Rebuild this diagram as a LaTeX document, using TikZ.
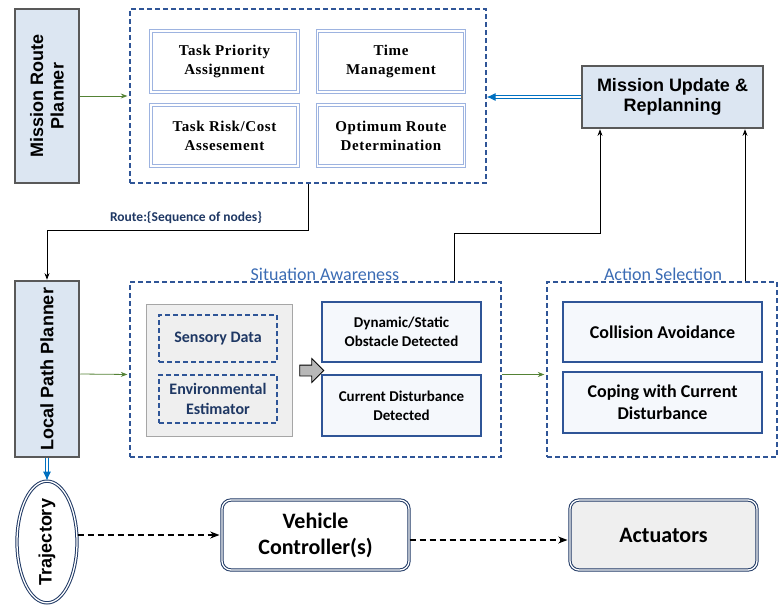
\documentclass[tikz,border=0pt]{standalone}
\usepackage{fontspec}
\newfontfamily\calibfont{Carlito}
\newfontfamily\arialfont{Liberation Sans}
\newfontfamily\cambfont[LetterSpace=4]{Liberation Serif}
\usetikzlibrary{arrows,arrows.meta}
\usetikzlibrary{positioning}
\usetikzlibrary{calc}
\usetikzlibrary{shapes.geometric,shapes.arrows}

\definecolor{dashblue}{HTML}{2F5597}
\definecolor{titleblue}{HTML}{3B6CB4}
\definecolor{navy}{HTML}{1F3864}
\definecolor{plgray}{HTML}{595959}
\definecolor{plfill}{HTML}{DCE6F2}
\definecolor{softblue}{HTML}{9DB3E0}
\definecolor{boxfill}{HTML}{F5F8FC}
\definecolor{graybox}{HTML}{EFEFEF}
\definecolor{grayline}{HTML}{A6A6A6}
\definecolor{arrowgreen}{HTML}{548235}
\definecolor{linkblue}{HTML}{0070C0}

\begin{document}
\begin{tikzpicture}[x=1pt,y=-1pt,>=Stealth,semithick]
\tikzstyle{planner}=[draw=plgray,line width=2.5pt,fill=plfill,inner sep=0pt,align=center,
  font=\arialfont\bfseries\fontsize{18}{20.5}\selectfont]
\tikzstyle{group}=[draw=dashblue,dash pattern=on 5pt off 3pt,line width=1.2pt,inner sep=0pt]
\tikzstyle{task}=[draw=softblue,double=white,double distance=1.5pt,line width=1pt,inner sep=0pt,
  minimum width=147pt,minimum height=61pt,align=center,font=\cambfont\bfseries\fontsize{15}{19}\selectfont]
\tikzstyle{event}=[draw=dashblue,line width=1.1pt,fill=boxfill,inner sep=0pt,minimum width=159pt,minimum height=60pt,
  align=center,font=\calibfont\bfseries\fontsize{15}{19}\selectfont]
\tikzstyle{action}=[draw=dashblue,line width=1.1pt,fill=boxfill,inner sep=0pt,minimum width=199pt,minimum height=60pt,
  align=center,font=\calibfont\bfseries\fontsize{18}{22}\selectfont]
\tikzstyle{sensor}=[draw=dashblue,dash pattern=on 5pt off 3pt,line width=1.1pt,inner sep=0pt,minimum width=118pt,minimum height=47pt,
  align=center,text=navy,font=\calibfont\bfseries\fontsize{16}{20}\selectfont]
\tikzstyle{grouptitle}=[text=titleblue,font=\calibfont\fontsize{18}{20}\selectfont]
\tikzstyle{roundbox}=[draw=navy,double=white,double distance=1.3pt,line width=1pt,rounded corners=9pt,
  inner sep=0pt,minimum width=187pt,minimum height=70pt,align=center,font=\calibfont\bfseries\fontsize{22}{26}\selectfont]
\tikzstyle{greenarrow}=[->,arrowgreen,thick,shorten >=2pt]
\tikzstyle{bluearrow}=[-{Latex[length=9pt,width=8pt]},linkblue,double=white,double distance=1.3pt,line width=0.9pt]
\tikzstyle{dasharrow}=[->,black,line width=1.4pt,dash pattern=on 6pt off 4pt,shorten >=2pt]

\useasboundingbox (0,0) rectangle (781,605);

% top row
\node[planner,rotate=90,minimum width=174pt,minimum height=64pt] (mrp) at (47,96) {Mission Route\\Planner};
\node[group,minimum width=356pt,minimum height=174pt] (mpbox) at (308,96) {};
\node[task] (tpa) at (224.5,61.5) {Task Priority\\Assignment};
\node[task] (tmg) at (391,61.5) {Time\\Management};
\node[task] (trc) at (224.5,135.5) {Task Risk/Cost\\Assesement};
\node[task] (ord) at (391,135.5) {Optimum Route\\Determination};
\node[planner,minimum width=181pt,minimum height=62pt] (mu) at (672.5,97) {Mission Update \&\\Replanning};

% middle row
\node[planner,rotate=90,minimum width=176pt,minimum height=64pt] (lpp) at (47,369) {Local Path Planner};
\node[group,minimum width=371pt,minimum height=175pt] (sa) at (315.5,369.5) {};
\node[grouptitle] (satitle) at (325,274) {Situation Awareness};
\node[draw=grayline,thick,fill=graybox,minimum width=146pt,minimum height=132pt] (sense) at (219,370) {};
\node[sensor] (sd) at (218,338.5) {Sensory Data};
\node[sensor,minimum height=48pt] (ee) at (218,399) {Environmental\\Estimator};
\node[single arrow,draw=black,thick,fill=grayline!80,minimum height=24pt,
  single arrow head extend=6.5pt,inner sep=5pt] (feed) at (309,370.5) {};
\node[event] (dsd) at (401.5,332) {Dynamic/Static\\Obstacle Detected};
\node[event,minimum height=61pt] (cdd) at (401.5,405.5) {Current Disturbance\\Detected};
\node[group,minimum width=230pt,minimum height=175pt] (as) at (662,369.5) {};
\node[grouptitle] (astitle) at (663,274) {Action Selection};
\node[action] (ca) at (662.5,332) {Collision Avoidance};
\node[action,minimum height=61pt] (cw) at (662.5,402.5) {Coping with Current\\Disturbance};

% bottom row
\node[ellipse,draw=navy,double=white,double distance=1.3pt,line width=1pt,rotate=90,inner sep=0pt,
  minimum width=120pt,minimum height=60pt,font=\arialfont\bfseries\fontsize{18}{20}\selectfont] (traj) at (47,542) {Trajectory};
\node[roundbox] (vc) at (315.5,535) {Vehicle\\Controller(s)};
\node[roundbox,fill=graybox] (act) at (663.5,535) {Actuators};

% connectors
\coordinate (rt) at (308,230);
\coordinate (c1) at (454,233);
\coordinate (c2) at (600,233);
\coordinate (c3) at (745,0);
\draw[greenarrow] (mrp.south) -- (mpbox.west);
\draw[bluearrow] (mu.west) -- (mu.west -| mpbox.east);
\draw[->,thick] (mpbox.south) -- (rt) -| (lpp.east);
\node[text=navy,font=\calibfont\bfseries\fontsize{13.5}{15}\selectfont] (route) at (186,218) {Route:\{Sequence of nodes\}};
\draw[->,thick] (c1 |- sa.north) -- (c1) -- (c2) -- (c2 |- mu.south);
\draw[->,thick] (c3 |- as.north) -- (c3 |- mu.south);
\draw[greenarrow] ([yshift=-5pt]lpp.south) -- ([yshift=-5pt]sa.west);
\draw[greenarrow] ([yshift=-5pt]sa.east) -- ([yshift=-5pt]as.west);
\draw[bluearrow] (lpp.west) -- (traj.east);
\draw[dasharrow] (traj.south |- vc.west) -- (vc.west);
\draw[dasharrow] ([yshift=-5pt]vc.east) -- ([yshift=-5pt]act.west);
\end{tikzpicture}
\end{document}
